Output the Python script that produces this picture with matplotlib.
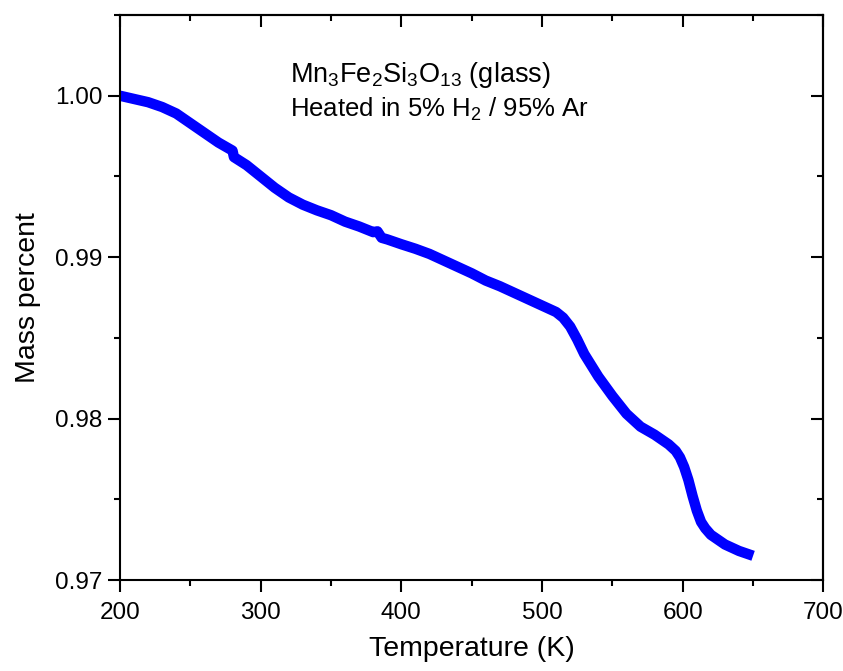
import matplotlib
matplotlib.use("Agg")
import matplotlib.pyplot as plt

plt.rcParams['font.family'] = ['Liberation Sans', 'DejaVu Sans']
plt.rcParams['mathtext.default'] = 'regular'

# temperature (K) and normalised mass
temperature = [200, 210, 220, 230, 240, 250, 260, 270, 280, 281, 290, 300, 310, 320,
               330, 340, 350, 360, 370, 380, 383, 386, 390, 400, 410, 420, 430, 440,
               450, 460, 470, 480, 490, 500, 505, 510, 515, 520, 525, 530, 540, 550,
               560, 570, 580, 585, 590, 595, 598, 601, 604, 607, 610, 613, 616, 620,
               625, 630, 640, 650]
mass = [1.0000, 0.9998, 0.9996, 0.9993, 0.9989, 0.9983, 0.9977, 0.9971, 0.9966, 0.9962,
        0.9957, 0.9950, 0.9943, 0.9937, 0.99325, 0.9929, 0.9926, 0.9922, 0.9919, 0.99155,
        0.9916, 0.9912, 0.9911, 0.9908, 0.99052, 0.9902, 0.9898, 0.9894, 0.9890, 0.98855,
        0.9882, 0.9878, 0.9874, 0.9870, 0.9868, 0.9866, 0.98625, 0.9857, 0.9849, 0.9840,
        0.9826, 0.9814, 0.9803, 0.9795, 0.9790, 0.9787, 0.9784, 0.9780, 0.9776, 0.9770,
        0.9762, 0.9752, 0.9743, 0.9736, 0.9732, 0.9728, 0.9725, 0.9722, 0.9718, 0.9715]

x_ticks = [200, 300, 400, 500, 600, 700]
y_ticks = [0.97, 0.98, 0.99, 1.00]
y_labels = ['0.97', '0.98', '0.99', '1.00']

fig = plt.figure(figsize=(8.43, 6.71), dpi=100)
ax = fig.add_axes([0.1423, 0.1356, 0.8345, 0.842])

ax.plot(temperature, mass, color='#0000ff', lw=7.5, solid_capstyle='butt',
        solid_joinstyle='round')

ax.set_xlim(200, 700)
ax.set_ylim(0.97, 1.005)
ax.set_xticks(x_ticks)
ax.set_xticks(range(250, 700, 100), minor=True)
ax.set_yticks(y_ticks)
ax.set_yticklabels(y_labels)
ax.set_yticks([0.975, 0.985, 0.995, 1.005], minor=True)

for s in ax.spines.values():
    s.set_linewidth(1.5)

ax.tick_params(which='major', direction='out', length=8.5, width=1.5, labelsize=17.5, pad=4)
ax.tick_params(axis='x', which='major', pad=7)
ax.tick_params(which='minor', direction='out', length=4.5, width=1.5)

# top and right axes: ticks pointing inward, no labels
top = ax.secondary_xaxis('top')
top.set_xticks(x_ticks)
top.set_xticks(range(250, 700, 100), minor=True)
top.tick_params(which='major', direction='in', length=8.5, width=1.5, labeltop=False)
top.tick_params(which='minor', direction='in', length=4.5, width=1.5)
top.spines['top'].set_linewidth(1.5)

right = ax.secondary_yaxis('right')
right.set_yticks(y_ticks)
right.set_yticks([0.975, 0.985, 0.995, 1.005], minor=True)
right.tick_params(which='major', direction='in', length=8.5, width=1.5, labelright=False)
right.tick_params(which='minor', direction='in', length=4.5, width=1.5)
right.spines['right'].set_linewidth(1.5)

ax.set_xlabel('Temperature (K)', fontsize=20.5, labelpad=9)
ax.set_ylabel('Mass percent', fontsize=20.5, labelpad=10)

ax.text(0.242, 0.881, r'Mn$_3$Fe$_2$Si$_3$O$_{13}$ (glass)', transform=ax.transAxes,
        fontsize=19.5)
ax.text(0.242, 0.8195, r'Heated in 5% H$_2$ / 95% Ar', transform=ax.transAxes,
        fontsize=18.5)

fig.savefig('out.png', dpi=100)
